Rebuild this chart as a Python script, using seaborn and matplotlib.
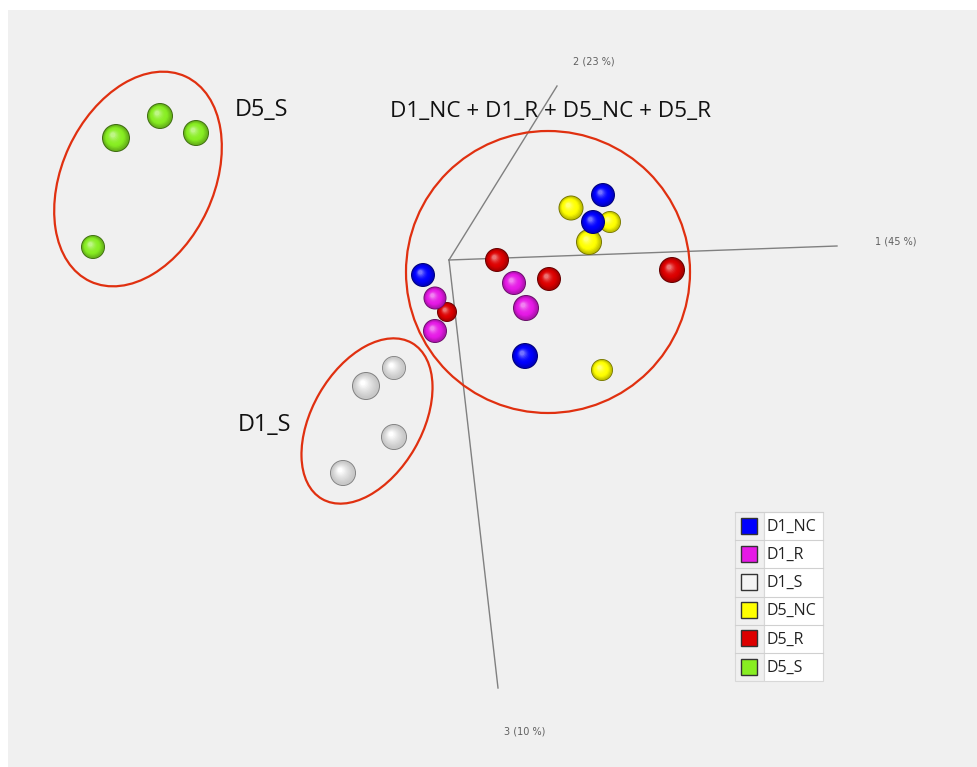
import numpy as np
import pandas as pd
import matplotlib
matplotlib.use("Agg")
import matplotlib.pyplot as plt
from matplotlib.patches import Ellipse, Rectangle
import seaborn as sns

# ---- data: projected PCA scores (screen-projection coordinates) ----
groups = ["D1_NC", "D1_R", "D1_S", "D5_NC", "D5_R", "D5_S"]
colors = ["#0000ff", "#e619e6", "#f4f4f4", "#ffff00", "#dd0000", "#88ee22"]

d1_nc_x = [603, 593, 423, 525]
d1_nc_y = [195, 222, 275, 356]
d1_nc_r = [12, 12, 12, 13]

d1_r_x = [435, 514, 526, 435]
d1_r_y = [298, 283, 308, 331]
d1_r_r = [11.5, 12, 13, 12]

d1_s_x = [366, 394, 394, 343]
d1_s_y = [386, 368, 437, 473]
d1_s_r = [14, 12, 13, 13]

d5_nc_x = [571, 610, 589, 602]
d5_nc_y = [208, 222, 242, 370]
d5_nc_r = [12.5, 11, 13, 11]

d5_r_x = [497, 549, 672, 447]
d5_r_y = [260, 279, 270, 312]
d5_r_r = [12, 12, 13, 10]

d5_s_x = [116, 160, 196, 93]
d5_s_y = [138, 116, 133, 247]
d5_s_r = [14, 13, 13, 12]

# drawing order (back to front) roughly as in reference
order = ["D5_S", "D1_S", "D5_R", "D1_R", "D5_NC", "D1_NC"]

series = {
    "D1_NC": (d1_nc_x, d1_nc_y, d1_nc_r),
    "D1_R": (d1_r_x, d1_r_y, d1_r_r),
    "D1_S": (d1_s_x, d1_s_y, d1_s_r),
    "D5_NC": (d5_nc_x, d5_nc_y, d5_nc_r),
    "D5_R": (d5_r_x, d5_r_y, d5_r_r),
    "D5_S": (d5_s_x, d5_s_y, d5_s_r),
}
rows = []
for g, (xs, ys, rs) in series.items():
    for x, y, r in zip(xs, ys, rs):
        rows.append({"group": g, "x": x, "y": y, "r": r})
df = pd.DataFrame(rows)

# axis lines of the 3D projection (origin and ends)
axis_origin = (449, 260)
axis_ends = [(837, 246), (557, 86), (498, 688)]
axis_labels = ["1 (45 %)", "2 (23 %)", "3 (10 %)"]
axis_label_pos = [(896, 242), (594, 61), (525, 731)]

W, H = 977, 767
DPI = 100
fig = plt.figure(figsize=(W / DPI, H / DPI), dpi=DPI)
ax = fig.add_axes([0, 0, 1, 1])
ax.set_xlim(0, W)
ax.set_ylim(H, 0)
ax.axis("off")
fig.patch.set_facecolor("white")

ax.add_patch(Rectangle((8, 10), W - 8, H - 10, facecolor="#f0f0f0",
                       edgecolor="none", zorder=0))

# projection axes
for (ex, ey), lab, (lx, ly) in zip(axis_ends, axis_labels, axis_label_pos):
    ax.plot([axis_origin[0], ex], [axis_origin[1], ey], color="#808080",
            lw=1.0, zorder=1)
    ax.text(lx, ly, lab, fontsize=7, color="#606060", ha="center",
            va="center", family="DejaVu Sans", zorder=1)

pal = dict(zip(groups, colors))
px2pt = 72.0 / DPI


def shade(c, f):
    c = np.array(matplotlib.colors.to_rgb(c))
    if f < 0:
        return tuple(c * (1 + f))
    return tuple(c + (1 - c) * f)


# spheres: base via seaborn, then shading layers
for i, g in enumerate(order):
    sub = df[df.group == g]
    is_white = g == "D1_S"
    z = 3 + i * 0.1
    sizes = (2 * sub.r.values * px2pt) ** 2
    dark = (0.50, 0.50, 0.50) if is_white else shade(pal[g], -0.55)
    ax.scatter(sub.x, sub.y, s=sizes, color=dark, edgecolor="none", zorder=z)
    nlay = 10
    base = "#c8c8c8" if is_white else pal[g]
    base_dark = shade(base, -0.25)
    for k in range(0, nlay + 1):
        t = k / nlay
        rr = sub.r.values * (0.93 - 0.75 * t)
        off = sub.r.values * 0.22 * t
        if is_white:
            col = shade("#bdbdbd", 0.15 + 0.85 * t ** 1.2)
        else:
            if t < 0.35:
                c0 = np.array(matplotlib.colors.to_rgb(base_dark))
                c1 = np.array(matplotlib.colors.to_rgb(base))
                col = tuple(c0 + (c1 - c0) * (t / 0.35))
            else:
                col = shade(base, 0.45 * ((t - 0.35) / 0.65) ** 2)
        xs = sub.x.values - off
        ys = sub.y.values - off
        if k == 0:
            sns.scatterplot(x=xs, y=ys, s=(2 * rr * px2pt) ** 2, color=col,
                            edgecolor="none", linewidth=0, ax=ax,
                            legend=False, zorder=z + 0.01)
        else:
            ax.scatter(xs, ys, s=(2 * rr * px2pt) ** 2, color=col,
                       edgecolor="none", zorder=z + 0.01 + 0.001 * k)

# cluster ellipses
ell_color = "#e03010"
ax.add_patch(Ellipse((138, 179), 2 * 76, 2 * 113, angle=25, fill=False,
                     edgecolor=ell_color, lw=1.6, zorder=4))
ax.add_patch(Ellipse((367, 421), 2 * 55, 2 * 90, angle=30, fill=False,
                     edgecolor=ell_color, lw=1.6, zorder=4))
ax.add_patch(Ellipse((548, 272), 2 * 142, 2 * 141, angle=0, fill=False,
                     edgecolor=ell_color, lw=1.6, zorder=4))

fam = ["Open Sans", "DejaVu Sans"]
ax.text(235, 110, "D5_S", fontsize=16.8, ha="left", va="center", family=fam,
        color="#111111", zorder=5)
ax.text(550, 112, "D1_NC + D1_R + D5_NC + D5_R", fontsize=16.2, ha="center",
        va="center", family=fam, color="#111111", zorder=5)
ax.text(238, 425, "D1_S", fontsize=16.8, ha="left", va="center", family=fam,
        color="#111111", zorder=5)

# legend table
lx0, ly0, lw_sw, lw_tx, rh = 735, 512, 29, 59, 28.2
ax.add_patch(Rectangle((lx0, ly0), lw_sw, rh * 6, facecolor="#f0f0f0",
                       edgecolor="#d8d8d8", lw=0.8, zorder=5))
ax.add_patch(Rectangle((lx0 + lw_sw, ly0), lw_tx, rh * 6, facecolor="white",
                       edgecolor="#d8d8d8", lw=0.8, zorder=5))
for j, g in enumerate(groups):
    y0 = ly0 + j * rh
    ax.plot([lx0, lx0 + lw_sw + lw_tx], [y0, y0], color="#d0d0d0", lw=0.8,
            zorder=6)
    ax.add_patch(Rectangle((lx0 + 6, y0 + 5.5), 16, 16, facecolor=pal[g],
                           edgecolor="#333333", lw=1.0, zorder=7))
    ax.text(lx0 + lw_sw + 2, y0 + rh / 2 + 0.5, g, fontsize=11.5, ha="left",
            va="center", family=fam, color="#222222", zorder=7)

fig.savefig("out.png", dpi=DPI)
